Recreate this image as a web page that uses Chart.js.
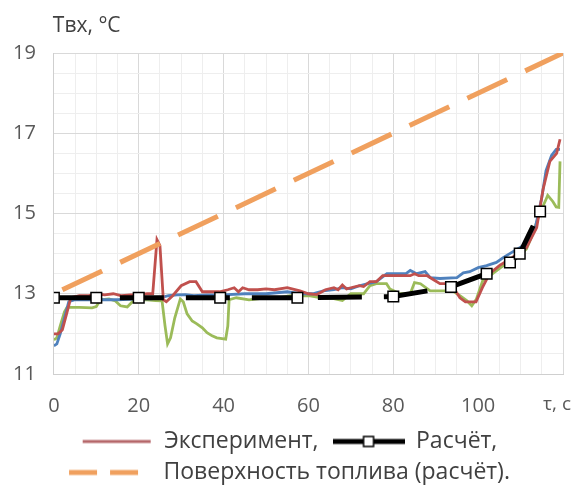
<!DOCTYPE html>
<html lang="ru">
<head>
<meta charset="utf-8">
<script src="https://cdn.jsdelivr.net/npm/chart.js@4.4.1/dist/chart.umd.min.js"></script>
<style>
  html, body { margin: 0; padding: 0; background: #fff; overflow: hidden; }
</style>
</head>
<body>
<canvas id="tempChart" width="578" height="487"></canvas>
<script>
// время, с
const redT = [0, 1, 2, 3, 4, 6, 8, 10, 12, 14, 16, 18, 20, 22, 23.3, 24.3, 25, 25.8, 26.5, 28, 30, 32, 33.5, 35, 37, 39, 41, 42.5, 43.5, 44.5, 46, 48, 50, 52, 55, 58, 60, 62, 64, 66, 67, 68, 69, 70, 72, 73, 74.5, 76, 77.5, 80, 82, 84, 85, 86, 88, 89.5, 91, 93, 94.5, 95.7, 97, 99.5, 101, 102.7, 105, 108, 111.4, 113.8, 115.3, 116.9, 118.5, 119.3];
const redV = [12.0, 12.0, 12.1, 12.5, 12.9, 12.95, 12.95, 13.0, 12.97, 13.0, 12.95, 12.97, 12.98, 13.0, 13.0, 14.35, 14.2, 12.85, 12.8, 12.95, 13.2, 13.3, 13.3, 13.05, 13.05, 13.05, 13.1, 13.15, 13.05, 13.15, 13.1, 13.1, 13.12, 13.1, 13.15, 13.07, 13.0, 12.98, 13.1, 13.15, 13.1, 13.22, 13.12, 13.15, 13.2, 13.18, 13.3, 13.3, 13.45, 13.45, 13.45, 13.45, 13.5, 13.45, 13.45, 13.35, 13.25, 13.25, 13.1, 12.9, 12.8, 12.8, 13.15, 13.5, 13.7, 13.9, 14.15, 14.65, 15.6, 16.3, 16.5, 16.85];

const blueT = [0, 0.7, 1.5, 2.5, 3.5, 5, 10, 15, 20, 23, 25, 27, 29, 31, 33, 36, 40, 45, 50, 55, 58, 61, 63.5, 66, 68, 70, 72, 74, 76, 78.5, 81, 83, 84, 85.5, 87.5, 88.7, 91, 95, 96.5, 98, 100, 102, 104.3, 105.9, 109, 111.4, 113.3, 115, 116, 117.3, 118.4, 119.3];
const blueV = [11.7, 11.75, 12.0, 12.4, 12.8, 12.85, 12.85, 12.85, 12.87, 12.87, 12.9, 12.95, 12.97, 12.98, 12.95, 12.97, 12.97, 13.0, 13.0, 13.05, 13.0, 13.0, 13.07, 13.1, 13.15, 13.12, 13.2, 13.25, 13.3, 13.5, 13.5, 13.5, 13.58, 13.5, 13.55, 13.4, 13.38, 13.4, 13.52, 13.55, 13.65, 13.7, 13.78, 13.9, 14.1, 14.25, 14.57, 15.4, 16.07, 16.45, 16.6, 16.6];

const greenT = [0, 0.7, 1.5, 2.5, 3.1, 6, 9, 10, 11, 13, 14.5, 15.7, 17.3, 18.5, 20, 22, 24, 25.5, 26.2, 26.8, 27.5, 28.5, 29.8, 30.5, 31.4, 32.6, 33.7, 35, 36.1, 37.3, 38.4, 40.5, 41, 41.3, 43, 46, 50, 53, 55.7, 58, 60.4, 63, 66, 68, 70, 73, 74.5, 76, 78.4, 79.2, 81.6, 84, 85, 86.4, 88.7, 91, 94, 95.7, 97.3, 98.5, 99.6, 101.1, 102.8, 105.9, 109, 111.4, 112.9, 114.5, 115.7, 116.4, 117.6, 118.4, 119, 119.3];
const greenV = [11.85, 11.9, 12.2, 12.55, 12.66, 12.66, 12.65, 12.68, 12.85, 12.87, 12.82, 12.7, 12.67, 12.8, 12.85, 12.85, 12.83, 12.82, 12.2, 11.75, 11.9, 12.4, 12.87, 12.8, 12.5, 12.32, 12.25, 12.15, 12.03, 11.95, 11.9, 11.87, 12.2, 12.85, 12.9, 12.85, 12.9, 12.9, 12.95, 12.95, 12.95, 12.9, 12.88, 12.83, 13.0, 13.0, 13.2, 13.25, 13.25, 13.12, 13.0, 13.0, 13.28, 13.25, 13.07, 13.07, 13.07, 12.95, 12.83, 12.7, 12.87, 13.33, 13.45, 13.7, 13.9, 14.12, 14.5, 15.0, 15.28, 15.45, 15.3, 15.16, 15.15, 16.3];

const calcT = [0, 10, 20, 39.2, 57.4, 80, 93.6, 102, 107.5, 109.8, 114.6];
const calcV = [12.9, 12.9, 12.9, 12.9, 12.9, 12.93, 13.17, 13.5, 13.78, 14.0, 15.05];

const surfT = [2, 120];
const surfV = [13.1, 19.0];

const xTickLabels = [0, 20, 40, 60, 80, 100];
const yTickLabels = [11, 13, 15, 17, 19];
const xCaption = 'τ, c';
const yCaption = 'Твх, °C';

function toPoints(t, v) {
    return t.map((x, i) => ({ x: x, y: v[i] }));
}

// значки для легенды
function makeIcon(w, h, draw) {
    const c = document.createElement('canvas');
    c.width = w;
    c.height = h;
    draw(c.getContext('2d'));
    return c;
}
const iconExp = makeIcon(72, 12, ctx => {
    ctx.strokeStyle = '#b5676a';
    ctx.lineWidth = 3;
    ctx.beginPath(); ctx.moveTo(2, 6); ctx.lineTo(70, 6); ctx.stroke();
});
const iconCalc = makeIcon(72, 14, ctx => {
    ctx.strokeStyle = '#000';
    ctx.lineWidth = 5;
    ctx.beginPath(); ctx.moveTo(0, 7); ctx.lineTo(72, 7); ctx.stroke();
    ctx.fillStyle = '#fff';
    ctx.lineWidth = 1.5;
    ctx.fillRect(31, 2, 10, 10);
    ctx.strokeRect(31, 2, 10, 10);
});
const iconSurf = makeIcon(72, 12, ctx => {
    ctx.strokeStyle = '#f0a05e';
    ctx.lineWidth = 5;
    ctx.setLineDash([28, 13]);
    ctx.beginPath(); ctx.moveTo(1, 6); ctx.lineTo(72, 6); ctx.stroke();
});

// подписи осей
const captionPlugin = {
    id: 'axisCaption',
    afterDraw(chart) {
        const ctx = chart.ctx;
        const xs = chart.scales.x;
        ctx.save();
        ctx.fillStyle = '#404040';
        ctx.textBaseline = 'middle';
        ctx.font = "21px 'Open Sans'";
        ctx.textAlign = 'left';
        ctx.fillText(yCaption, chart.chartArea.left - 1, 26);
        ctx.font = "19px 'Open Sans'";
        ctx.fillStyle = '#595959';
        ctx.textAlign = 'right';
        ctx.fillText(xCaption, 571, xs.top + 31);
        ctx.restore();
    }
};

Chart.defaults.font.family = "'Open Sans', sans-serif";

const ctx = document.getElementById('tempChart').getContext('2d');
new Chart(ctx, {
    type: 'line',
    data: {
        datasets: [
            {
                label: 'Эксперимент, ',
                data: toPoints(redT, redV),
                borderColor: '#c0504d',
                borderWidth: 2.8,
                pointRadius: 0,
                order: 2,
                legendIcon: iconExp
            },
            {
                label: 'Расчёт,',
                data: toPoints(calcT, calcV),
                borderColor: '#000',
                borderWidth: 5,
                borderDash: [44, 22],
                pointStyle: 'rect',
                pointRadius: 7.5,
                pointBackgroundColor: '#fff',
                pointBorderColor: '#000',
                pointBorderWidth: 1.5,
                order: 0,
                legendIcon: iconCalc
            },
            {
                label: '  Поверхность топлива (расчёт).',
                data: toPoints(surfT, surfV),
                borderColor: '#f0a05e',
                borderWidth: 5,
                borderDash: [44, 20],
                pointRadius: 0,
                order: 1,
                legendIcon: iconSurf
            },
            {
                label: 'exp-2',
                data: toPoints(blueT, blueV),
                borderColor: '#4f81bd',
                borderWidth: 2.8,
                pointRadius: 0,
                order: 3,
                hideInLegend: true
            },
            {
                label: 'exp-3',
                data: toPoints(greenT, greenV),
                borderColor: '#9bbb59',
                borderWidth: 2.8,
                pointRadius: 0,
                order: 4,
                hideInLegend: true
            }
        ]
    },
    options: {
        responsive: false,
        devicePixelRatio: 1,
        animation: false,
        layout: {
            padding: { top: 53, left: -5, right: -5, bottom: -7 }
        },
        plugins: {
            legend: {
                position: 'bottom',
                labels: {
                    usePointStyle: true,
                    pointStyleWidth: 72,
                    padding: 8,
                    color: '#404040',
                    font: { size: 23 },
                    filter: (item, data) => !data.datasets[item.datasetIndex].hideInLegend,
                    sort: (a, b) => a.datasetIndex - b.datasetIndex,
                    generateLabels: chart => {
                        const items = Chart.defaults.plugins.legend.labels.generateLabels(chart);
                        items.forEach(it => {
                            const ds = chart.data.datasets[it.datasetIndex];
                            if (ds.legendIcon) it.pointStyle = ds.legendIcon;
                        });
                        return items;
                    }
                }
            },
            tooltip: { enabled: false }
        },
        scales: {
            x: {
                type: 'linear',
                min: 0,
                max: 120,
                afterFit: axis => { axis.paddingRight = 15; },
                ticks: {
                    stepSize: 5,
                    autoSkip: false,
                    maxRotation: 0,
                    padding: 4,
                    color: '#595959',
                    font: { size: 20 },
                    callback: v => (xTickLabels.includes(v) ? String(v) : '')
                },
                grid: {
                    drawTicks: true,
                    tickLength: 16,
                    tickColor: 'rgba(0,0,0,0)',
                    color: c => (c.tick && c.tick.value % 20 === 0 ? '#d9d9d9' : '#eeeeee')
                },
                border: { color: '#cfcfcf' }
            },
            y: {
                min: 11,
                max: 19,
                ticks: {
                    stepSize: 0.5,
                    autoSkip: false,
                    padding: 18,
                    color: '#595959',
                    font: { size: 20 },
                    callback: v => (yTickLabels.includes(v) ? String(v) : '')
                },
                grid: {
                    drawTicks: false,
                    color: c => (c.tick && yTickLabels.includes(c.tick.value) ? '#d9d9d9' : '#eeeeee')
                },
                border: { color: '#cfcfcf' }
            }
        }
    },
    plugins: [captionPlugin]
});
</script>
</body>
</html>
